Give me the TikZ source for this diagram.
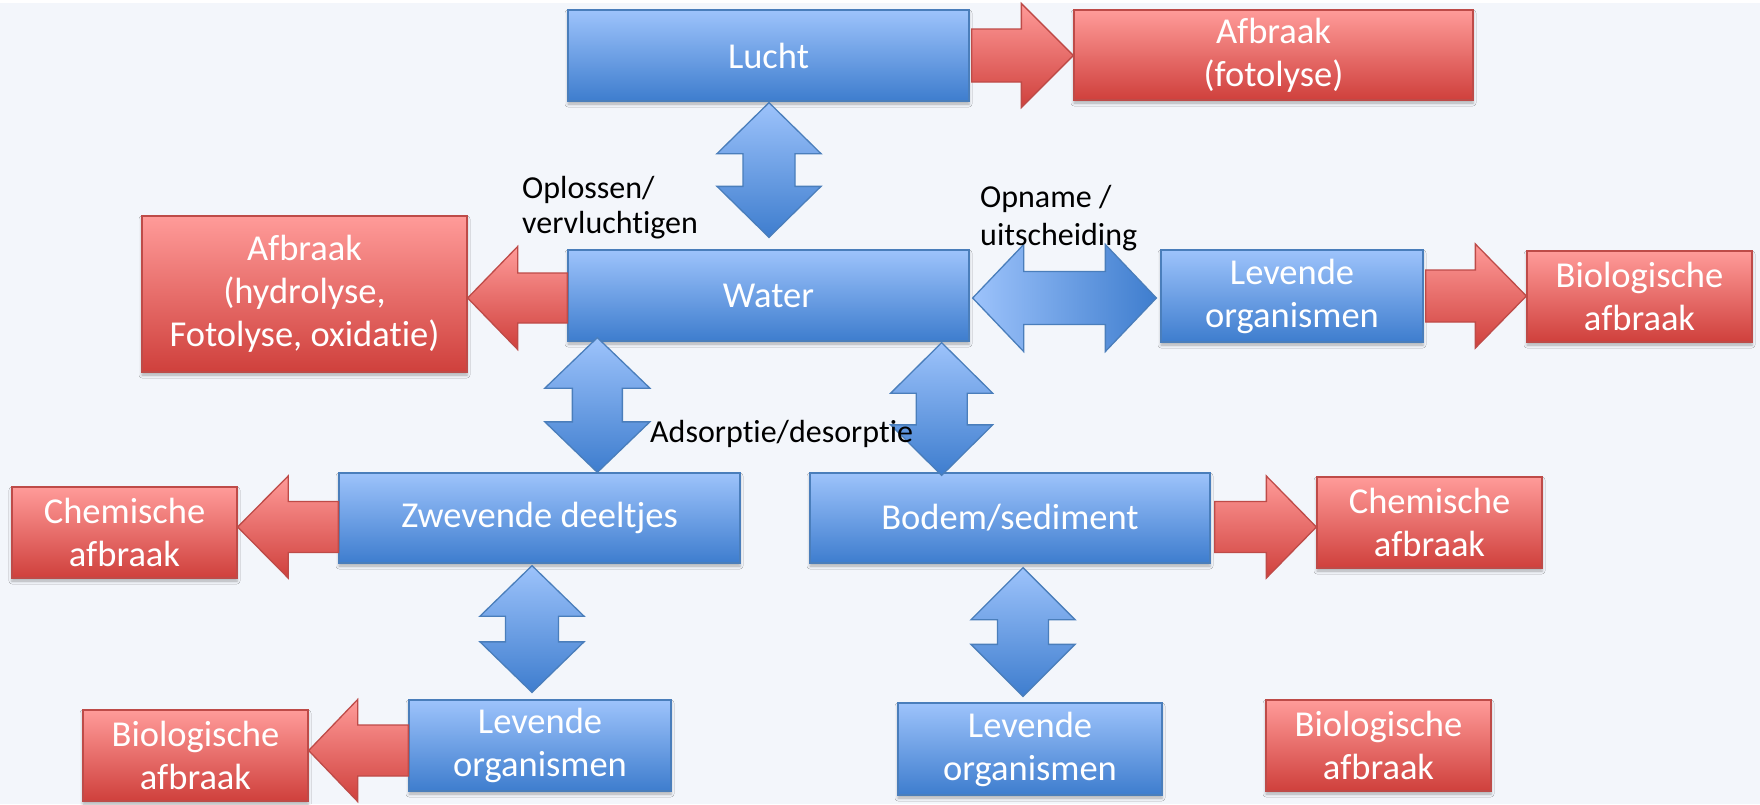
\documentclass[tikz,border=0pt]{standalone}
\usepackage{fontspec}
\setmainfont{Carlito}[Ligatures={NoCommon}]
\usetikzlibrary{calc,shadows.blur}

\definecolor{bg}{RGB}{243,246,251}
\definecolor{btop}{RGB}{157,195,251}
\definecolor{bbot}{RGB}{62,125,206}
\definecolor{bline}{RGB}{74,126,187}
\definecolor{rtop}{RGB}{255,155,153}
\definecolor{rbot}{RGB}{207,64,60}
\definecolor{rline}{RGB}{190,75,72}

\tikzset{
 box/.style={rectangle, inner sep=0pt, align=center, text=white,
   font=\fontsize{36.5}{43}\selectfont, line width=1.3pt,
   blur shadow={shadow xshift=0pt, shadow yshift=-3pt, shadow blur radius=3pt, shadow opacity=30}},
 bluebox/.style={box, draw=bline, top color=btop, bottom color=bbot},
 redbox/.style={box, draw=rline, top color=rtop, bottom color=rbot},
 bluearrow/.style={draw=bline, line width=1.3pt, top color=btop, bottom color=bbot},
 bluearrowh/.style={draw=bline, line width=1.3pt, left color=btop, right color=bbot},
 redarrow/.style={draw=rline, line width=1.3pt, top color=rtop, bottom color=rbot},
 lbl/.style={inner sep=0pt, align=left, text=black},
}

% vertical double block arrow: style, top tip, bottom tip, head half, shaft half, head length
\newcommand\VDA[6]{%
 \path[#1] let \p1=#2, \p2=#3 in
 (\x1,\y1) -- (\x1+#4pt,\y1-#6pt) -- (\x1+#5pt,\y1-#6pt) -- (\x1+#5pt,\y2+#6pt)
 -- (\x1+#4pt,\y2+#6pt) -- (\x1,\y2) -- (\x1-#4pt,\y2+#6pt) -- (\x1-#5pt,\y2+#6pt)
 -- (\x1-#5pt,\y1-#6pt) -- (\x1-#4pt,\y1-#6pt) -- cycle;}
% horizontal double block arrow: style, left tip, right tip, head half, shaft half, head length
\newcommand\HDA[6]{%
 \path[#1] let \p1=#2, \p2=#3 in
 (\x1,\y1) -- (\x1+#6pt,\y1+#4pt) -- (\x1+#6pt,\y1+#5pt) -- (\x2-#6pt,\y1+#5pt)
 -- (\x2-#6pt,\y1+#4pt) -- (\x2,\y1) -- (\x2-#6pt,\y1-#4pt) -- (\x2-#6pt,\y1-#5pt)
 -- (\x1+#6pt,\y1-#5pt) -- (\x1+#6pt,\y1-#4pt) -- cycle;}
% right block arrow: style, tail, tip, head half, shaft half, head length
\newcommand\RA[6]{%
 \path[#1] let \p1=#2, \p2=#3 in
 (\x1,\y1+#5pt) -- (\x2-#6pt,\y1+#5pt) -- (\x2-#6pt,\y1+#4pt) -- (\x2,\y1)
 -- (\x2-#6pt,\y1-#4pt) -- (\x2-#6pt,\y1-#5pt) -- (\x1,\y1-#5pt) -- cycle;}
% left block arrow: style, tail, tip, head half, shaft half, head length
\newcommand\LA[6]{%
 \path[#1] let \p1=#2, \p2=#3 in
 (\x1,\y1+#5pt) -- (\x2+#6pt,\y1+#5pt) -- (\x2+#6pt,\y1+#4pt) -- (\x2,\y1)
 -- (\x2+#6pt,\y1-#4pt) -- (\x2+#6pt,\y1-#5pt) -- (\x1,\y1-#5pt) -- cycle;}

\begin{document}
\begin{tikzpicture}[x=1pt,y=-1pt]
\fill[bg] (0,0) rectangle (1760,804);
\fill[white] (0,0) rectangle (1760,3);
\useasboundingbox (0,0) rectangle (1760,804);

% boxes
\node[bluebox, minimum width=401pt, minimum height=91pt] (lucht) at (768.5,55.5) {Lucht};
\node[redbox, minimum width=399pt, minimum height=90pt] (afbfoto) at (1273.5,55) {Afbraak\\(fotolyse)};
\node[bluebox, minimum width=401pt, minimum height=91pt] (water) at (768.5,295.5) {Water};
\node[redbox, minimum width=325pt, minimum height=156pt] (afbhydro) at (304.5,294) {Afbraak\\(hydrolyse,\\Fotolyse, oxidatie)};
\node[bluebox, minimum width=262pt, minimum height=92pt] (levA) at (1292,296) {Levende\\organismen};
\node[redbox, minimum width=225pt, minimum height=91pt] (bioA) at (1639.5,296.5) {Biologische\\afbraak};
\node[bluebox, minimum width=401pt, minimum height=90pt] (zwev) at (539.5,518) {Zwevende deeltjes};
\node[redbox, minimum width=225pt, minimum height=91pt] (chemA) at (124.5,532.5) {Chemische\\afbraak};
\node[bluebox, minimum width=400pt, minimum height=90pt] (bodem) at (1010,518) {Bodem/sediment};
\node[redbox, minimum width=225pt, minimum height=91pt] (chemB) at (1429.5,522.5) {Chemische\\afbraak};
\node[bluebox, minimum width=262pt, minimum height=91pt] (levB) at (540,745.5) {Levende\\organismen};
\node[redbox, minimum width=225pt, minimum height=91pt] (bioB) at (195.5,755.5) {Biologische\\afbraak};
\node[bluebox, minimum width=264pt, minimum height=92pt] (levC) at (1030,749) {Levende\\organismen};
\node[redbox, minimum width=225pt, minimum height=91pt] (bioC) at (1378.5,745.5) {Biologische\\afbraak};

% block arrows
\RA{redarrow}{($(lucht.east)+(2,0)$)}{(afbfoto.west)}{52}{26.5}{52}
\VDA{bluearrow}{($(lucht.south)+(0.5,1)$)}{($(water.north)+(0.5,-12)$)}{52}{26}{51}
\LA{redarrow}{($(water.west)+(0,2.5)$)}{(afbhydro.east)}{51.5}{25}{50}
\HDA{bluearrowh}{($(water.east)+(3,2.5)$)}{($(levA.west)+(-4,0)$)}{53.5}{26.5}{51}
\RA{redarrow}{($(levA.east)+(2,0)$)}{(bioA.west)}{52}{26}{51}
\coordinate (wz) at ($(water.south west)+(30,-4)$);
\VDA{bluearrow}{(wz)}{(wz |- zwev.north)}{52.5}{25}{50.5}
\coordinate (wb) at ($(water.south east)+(-28,1)$);
\VDA{bluearrow}{(wb)}{($(wb |- bodem.north)+(0,3)$)}{51}{25.5}{50.5}
\LA{redarrow}{($(zwev.west)+(0,9)$)}{(chemA.east)}{51}{25.5}{50.5}
\RA{redarrow}{($(bodem.east)+(4,9)$)}{(chemB.west)}{51}{25.5}{50}
\coordinate (zl) at ($(zwev.south)+(-7.5,2)$);
\VDA{bluearrow}{(zl)}{($(zl |- levB.north)+(0,-7)$)}{52}{26.5}{50.5}
\LA{redarrow}{($(levB.west)+(0,5)$)}{(bioB.east)}{51}{25.5}{49}
\coordinate (bl) at ($(bodem.south)+(13,4)$);
\VDA{bluearrow}{(bl)}{($(bl |- levC.north)+(0,-6)$)}{52}{25.5}{52}

% labels (base anchor = baseline of the last line)
\node[lbl, anchor=base west, font=\fontsize{32}{35}\selectfont] (lopl) at (522,233) {Oplossen/\\vervluchtigen};
\node[lbl, anchor=base west, font=\fontsize{32}{38}\selectfont] (lopn) at (980,245) {Opname /\\uitscheiding};
\node[lbl, anchor=base west, font=\fontsize{32}{38}\selectfont] (lads) at (650,442) {Adsorptie/desorptie};
\end{tikzpicture}
\end{document}
